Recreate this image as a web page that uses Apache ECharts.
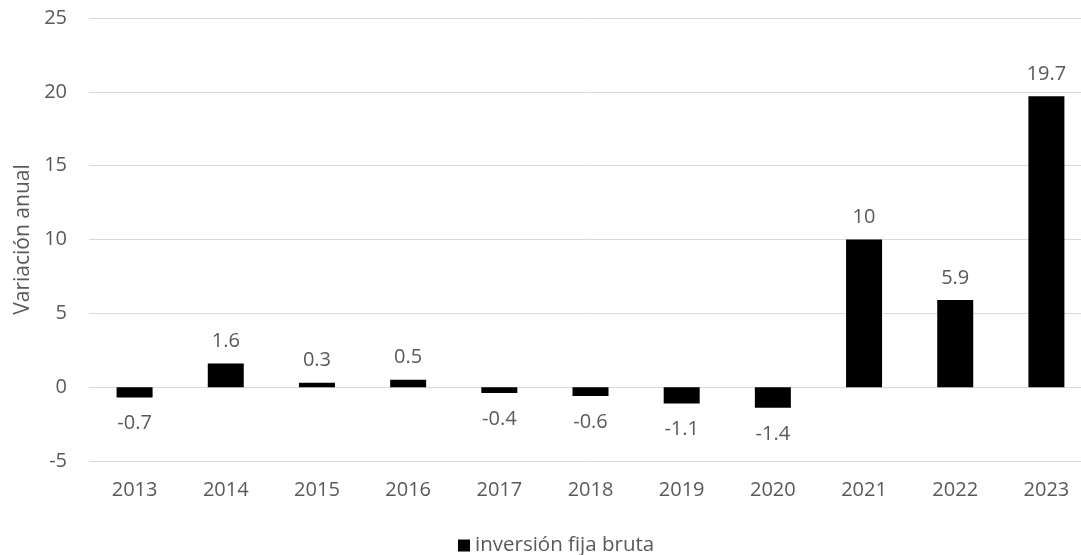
<!DOCTYPE html>
<html>
<head>
<meta charset="utf-8">
<script src="https://cdn.jsdelivr.net/npm/echarts@6/dist/echarts.min.js"></script>
<style>
  html, body { margin: 0; padding: 0; background: #fff; overflow: hidden; }
  /* el área de trazado original sobrepasa el borde derecho: lienzo algo más ancho */
  #chart { width: 1095px; height: 555px; }
</style>
</head>
<body>
<div id="chart"></div>
<script>
// datos
const years = ['2013', '2014', '2015', '2016', '2017', '2018', '2019', '2020', '2021', '2022', '2023'];
const inversion = [-0.7, 1.6, 0.3, 0.5, -0.4, -0.6, -1.1, -1.4, 10, 5.9, 19.7];
const seriesName = 'inversión fija bruta';
const yName = 'Variación anual';

const textColor = '#595959';
const font = "'Open Sans', sans-serif";

const myChart = echarts.init(document.getElementById('chart'));

const option = {
  animation: false,
  textStyle: { fontFamily: font },
  grid: { left: 89, right: 3, top: 18, bottom: 94 },
  legend: {
    top: 530,
    left: 453,
    icon: 'rect',
    itemWidth: 12,
    itemHeight: 12,
    itemGap: 6,
    textStyle: { color: textColor, fontSize: 20.5, fontFamily: font },
    data: [seriesName]
  },
  xAxis: {
    type: 'category',
    data: years,
    axisLine: { show: false },
    axisTick: { show: false },
    axisLabel: { color: textColor, fontSize: 20, margin: 19, fontFamily: font }
  },
  yAxis: {
    type: 'value',
    min: -5,
    max: 25,
    interval: 5,
    name: yName,
    nameLocation: 'middle',
    nameGap: 55,
    nameTextStyle: { color: textColor, fontSize: 21, fontFamily: font },
    axisLine: { show: false },
    axisTick: { show: false },
    axisLabel: { color: textColor, fontSize: 20, margin: 22, fontFamily: font },
    splitLine: { lineStyle: { color: '#d9d9d9', width: 1 } }
  },
  series: [
    {
      name: seriesName,
      type: 'bar',
      barWidth: 36,
      itemStyle: { color: '#000000' },
      label: {
        show: true,
        position: 'top',
        distance: 12,
        color: textColor,
        fontSize: 20,
        fontFamily: font
      },
      data: inversion.map(v => v < 0
        ? { value: v, label: { position: 'bottom', distance: 16 } }
        : v)
    }
  ]
};

myChart.setOption(option);
</script>
</body>
</html>
